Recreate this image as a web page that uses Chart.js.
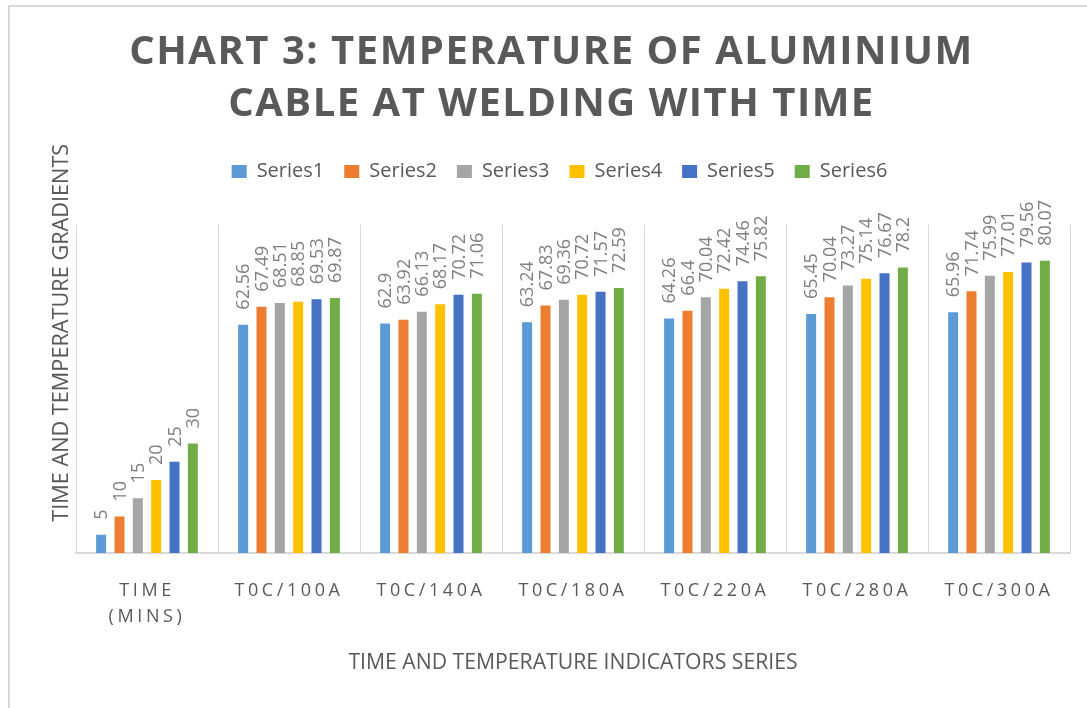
<!DOCTYPE html>
<html>
<head>
<meta charset="utf-8">
<title>Chart 3</title>
<script src="https://cdn.jsdelivr.net/npm/chart.js@4.4.1/dist/chart.umd.min.js"></script>
<style>
  html, body { margin: 0; padding: 0; background: #fff; overflow: hidden; }
  #wrap { position: relative; width: 1087px; height: 708px; }
  #frame { position: absolute; left: 8px; top: 5px; width: 1200px; height: 800px; border: 2px solid #d9d9d9; box-sizing: border-box; }
  canvas { position: absolute; left: 0; top: 0; }
</style>
</head>
<body>
<div id="wrap">
  <div id="frame"></div>
  <canvas id="chart" width="1087" height="708"></canvas>
</div>
<script>
const categories = [['TIME', '(MINS)'], 'T0C/100A', 'T0C/140A', 'T0C/180A', 'T0C/220A', 'T0C/280A', 'T0C/300A'];
const seriesNames = ['Series1', 'Series2', 'Series3', 'Series4', 'Series5', 'Series6'];
const series1 = [5, 62.56, 62.9, 63.24, 64.26, 65.45, 65.96];
const series2 = [10, 67.49, 63.92, 67.83, 66.4, 70.04, 71.74];
const series3 = [15, 68.51, 66.13, 69.36, 70.04, 73.27, 75.99];
const series4 = [20, 68.85, 68.17, 70.72, 72.42, 75.14, 77.01];
const series5 = [25, 69.53, 70.72, 71.57, 74.46, 76.67, 79.56];
const series6 = [30, 69.87, 71.06, 72.59, 75.82, 78.2, 80.07];
const seriesColors = ['#5B9BD5', '#ED7D31', '#A5A5A5', '#FFC000', '#4472C4', '#70AD47'];

const chartTitle = ['CHART 3: TEMPERATURE OF ALUMINIUM', 'CABLE AT WELDING WITH TIME'];
const xTitle = 'TIME AND TEMPERATURE INDICATORS SERIES';
const yTitle = 'TIME AND TEMPERATURE GRADIENTS';
const yMax = 90;

const textColor = '#595959';
const font = 'Open Sans';

// wrap a box's draw method with some canvas state of our own
function wrapDraw(obj, method, before) {
  if (!obj || obj['_wrapped_' + method]) return;
  const orig = obj[method];
  obj[method] = function (...args) {
    const ctx = this.ctx;
    ctx.save();
    before(ctx);
    orig.apply(this, args);
    ctx.restore();
  };
  obj['_wrapped_' + method] = true;
}

const spacing = {
  id: 'spacing',
  beforeLayout(chart) {
    // extra gap under the legend
    const lg = chart.legend;
    if (lg && !lg._padded) {
      const fit = lg.fit;
      lg.fit = function () { fit.call(this); this.height += 33; };
      lg._padded = true;
    }
  },
  beforeDraw(chart) {
    wrapDraw(chart.titleBlock, 'draw', (ctx) => { ctx.letterSpacing = '1.5px'; });
    wrapDraw(chart.scales.x, 'drawLabels', (ctx) => { ctx.letterSpacing = '3.6px'; });
    // legend row sits a little right of the title centre
    wrapDraw(chart.legend, 'draw', (ctx) => { ctx.translate(8, 0); });
  }
};

// rotated value labels above each bar
const valueLabels = {
  id: 'valueLabels',
  afterDatasetsDraw(chart) {
    const ctx = chart.ctx;
    ctx.save();
    ctx.font = '18px "' + font + '"';
    ctx.fillStyle = '#7f7f7f';
    ctx.textAlign = 'left';
    ctx.textBaseline = 'middle';
    chart.data.datasets.forEach((ds, i) => {
      chart.getDatasetMeta(i).data.forEach((bar, j) => {
        ctx.save();
        ctx.translate(bar.x, bar.y - 15);
        ctx.rotate(-Math.PI / 2);
        ctx.fillText(String(ds.data[j]), 0, 1);
        ctx.restore();
      });
    });
    ctx.restore();
  }
};

// y axis title sits higher than the plot centre in the original
const yAxisTitle = {
  id: 'yAxisTitle',
  afterDraw(chart) {
    const ctx = chart.ctx;
    const area = chart.chartArea;
    ctx.save();
    ctx.font = '21.7px "' + font + '"';
    ctx.fillStyle = textColor;
    ctx.textAlign = 'center';
    ctx.textBaseline = 'middle';
    ctx.translate(area.left - 14.5, (area.top + area.bottom) / 2 - 56);
    ctx.rotate(-Math.PI / 2);
    ctx.fillText(yTitle, 0, 0);
    ctx.restore();
  }
};

const allSeries = [series1, series2, series3, series4, series5, series6];
const datasets = allSeries.map((data, i) => ({
  label: seriesNames[i],
  data: data,
  backgroundColor: seriesColors[i],
  borderWidth: 0,
  categoryPercentage: 0.775,
  barPercentage: 0.545
}));

new Chart(document.getElementById('chart'), {
  type: 'bar',
  data: { labels: categories, datasets },
  plugins: [spacing, valueLabels, yAxisTitle],
  options: {
    responsive: false,
    animation: false,
    layout: { padding: { left: 33, right: 17, top: 0, bottom: 32.5 } },
    plugins: {
      title: {
        display: true,
        text: chartTitle,
        color: textColor,
        font: { family: font, size: 40, weight: 'bold', lineHeight: 1.3 },
        padding: { top: 26.5, bottom: 11 }
      },
      legend: {
        position: 'top',
        labels: {
          color: textColor,
          font: { family: font, size: 20 },
          boxWidth: 15,
          boxHeight: 13,
          padding: 20
        }
      },
      tooltip: { enabled: false }
    },
    scales: {
      x: {
        grid: { color: '#d9d9d9', lineWidth: 1, drawTicks: false, offset: true },
        border: { color: '#d9d9d9', width: 2 },
        ticks: {
          color: textColor,
          font: { family: font, size: 18, lineHeight: 1.45 },
          padding: 24.5,
          maxRotation: 0,
          autoSkip: false
        },
        title: {
          display: true,
          text: xTitle,
          color: textColor,
          font: { family: font, size: 21.2, lineHeight: 1.2 },
          padding: { top: 22, bottom: 0 }
        },
        // labels + title band below the plot
        afterFit(scale) { scale.height = 122.5; }
      },
      y: {
        min: 0,
        max: yMax,
        grid: { display: false },
        border: { display: false },
        ticks: { display: false },
        afterFit(scale) { scale.width = 43; }
      }
    }
  }
});
</script>
</body>
</html>
